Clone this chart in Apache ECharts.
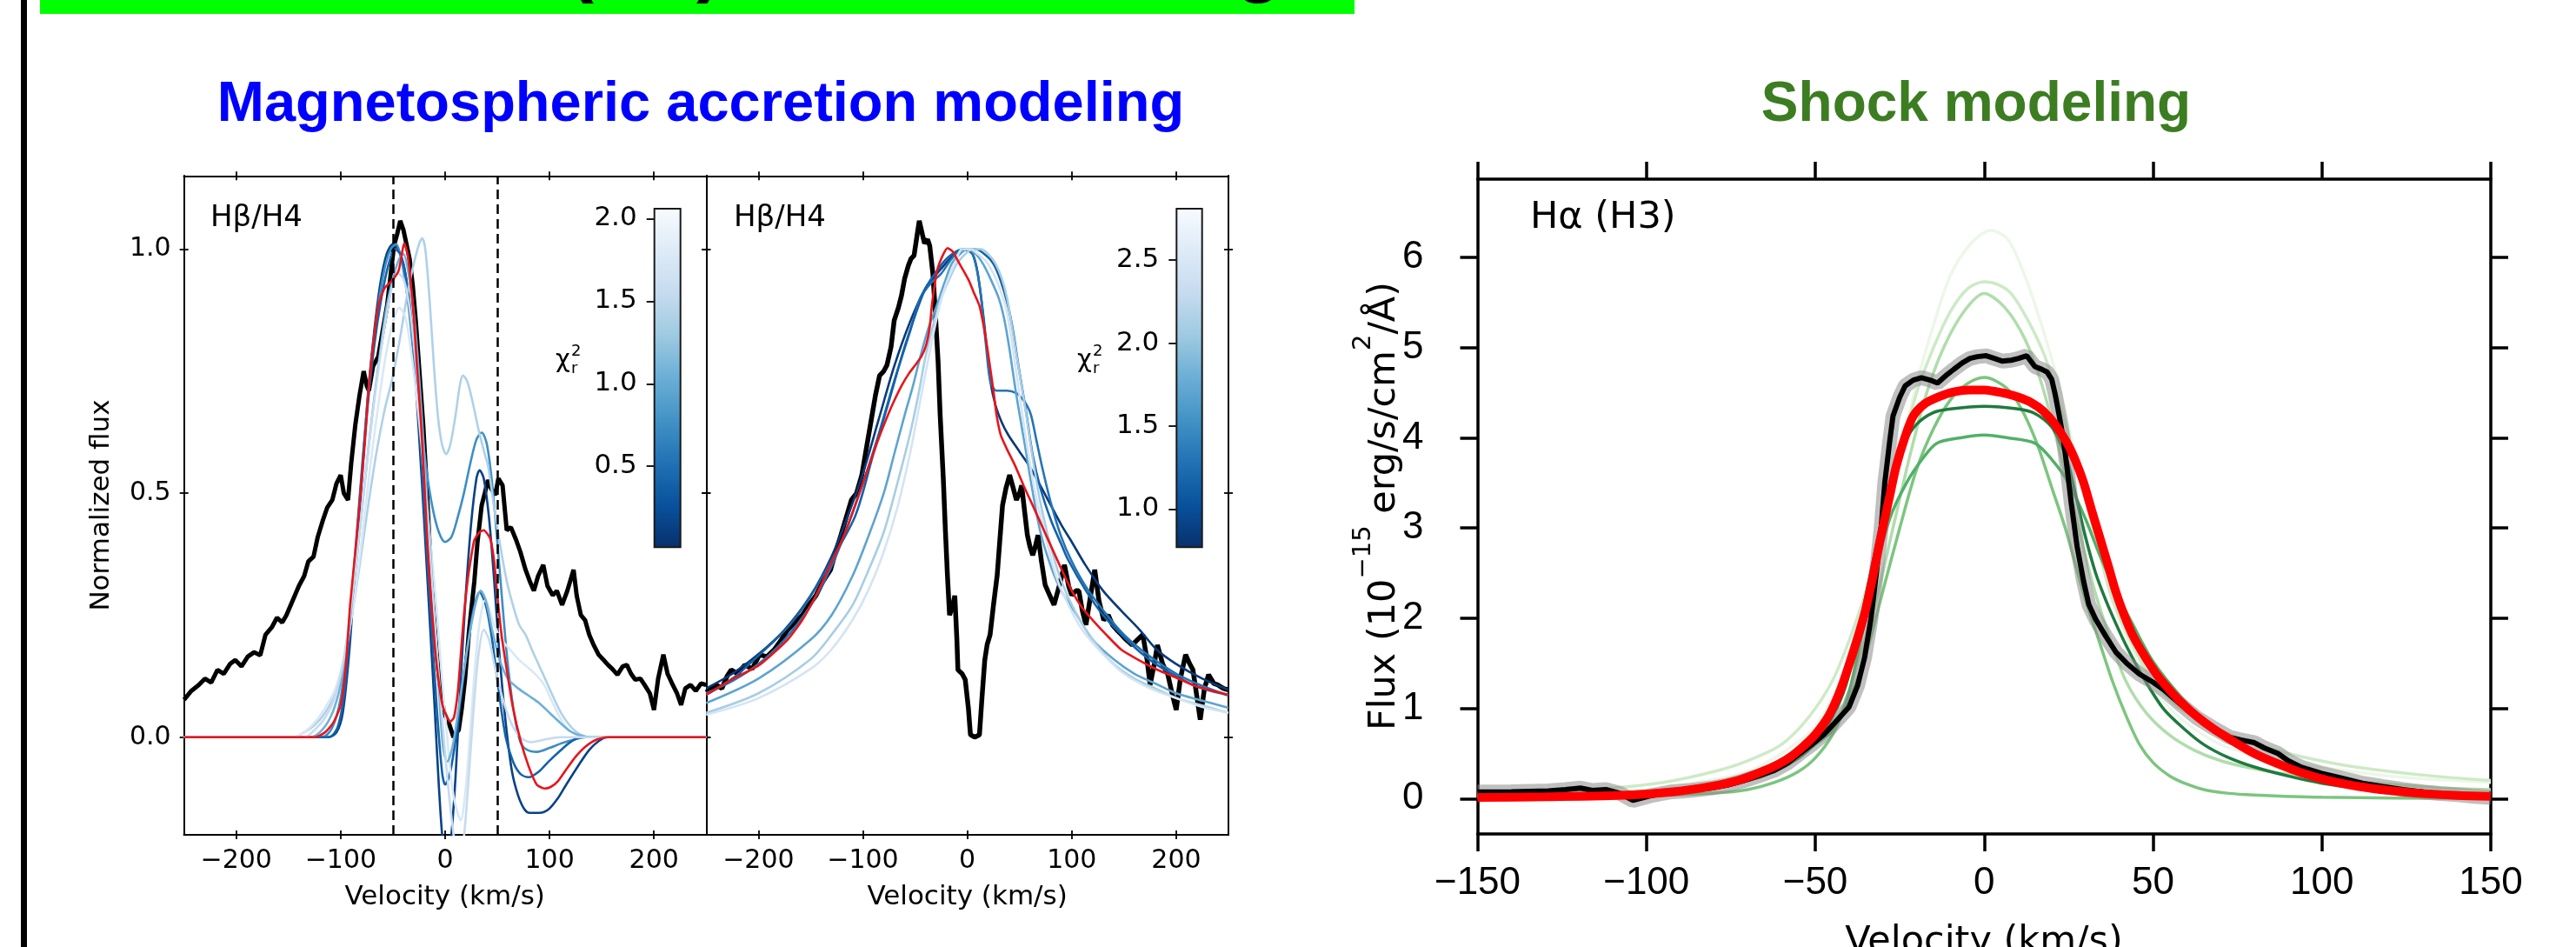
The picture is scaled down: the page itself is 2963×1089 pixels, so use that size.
<!DOCTYPE html>
<html><head><meta charset="utf-8">
<script src="https://cdn.jsdelivr.net/npm/echarts@6/dist/echarts.min.js"></script>
<style>html,body{margin:0;padding:0;background:#fff}#c{width:2963px;height:1089px}</style>
</head><body><div id="c"></div>
<script>
// ---------------- DATA ----------------
const velTicksHb = [-200, -100, 0, 100, 200];
const fluxTicksHb = [0, 0.5, 1.0];
const velTicksHa = [-150, -100, -50, 0, 50, 100, 150];
const fluxTicksHa = [0, 1, 2, 3, 4, 5, 6];
const cbLeftRange = [0.01, 2.06];
const cbLeftTicks = [0.5, 1.0, 1.5, 2.0];
const cbMidRange = [0.77, 2.81];
const cbMidTicks = [1.0, 1.5, 2.0, 2.5];
const dashedVel = [-50, 50];

// Left panel (Hβ/H4) observed
const hbLeftObs = [[-250,0.077],[-243,0.095],[-236,0.107],[-230,0.12],[-224,0.112],[-218,0.138],[-212,0.13],[-206,0.15],[-201,0.158],[-195,0.145],[-189,0.165],[-183,0.174],[-177,0.168],[-172,0.21],[-166,0.225],[-161,0.245],[-156,0.235],[-152,0.25],[-148,0.27],[-144,0.29],[-140,0.31],[-135,0.33],[-131,0.36],[-126,0.37],[-122,0.41],[-117,0.445],[-113,0.47],[-108,0.486],[-104,0.52],[-100,0.537],[-97,0.5],[-93,0.486],[-90,0.56],[-86,0.64],[-82,0.7],[-78,0.75],[-75,0.72],[-73,0.71],[-69,0.76],[-64,0.78],[-60,0.83],[-55.5,0.885],[-52,0.95],[-49,1.007],[-46,1.03],[-43,1.058],[-40,1.04],[-38,1.02],[-34,0.98],[-31,0.925],[-28,0.85],[-25,0.76],[-21,0.64],[-18,0.527],[-15,0.4],[-11.5,0.27],[-8,0.17],[-5,0.107],[-1,0.05],[4,0.026],[8,0.0],[13,0.015],[16,0.06],[19,0.118],[23,0.22],[28,0.32],[31,0.4],[35,0.475],[38,0.5],[41,0.527],[44,0.51],[48,0.496],[51,0.53],[55,0.516],[59,0.424],[63,0.43],[68,0.404],[72,0.38],[77,0.343],[81,0.32],[85,0.30],[89,0.33],[94,0.353],[98,0.31],[103,0.291],[107,0.3],[112,0.271],[117,0.3],[123,0.343],[126,0.29],[130,0.25],[134,0.24],[138,0.21],[142,0.19],[147,0.169],[151,0.16],[156,0.148],[160,0.14],[165,0.128],[170,0.145],[174,0.148],[178,0.13],[182,0.118],[187,0.12],[191,0.107],[196,0.09],[200,0.056],[204,0.12],[209,0.169],[213,0.13],[218,0.107],[222,0.09],[226,0.066],[230,0.1],[235,0.107],[240,0.095],[245,0.11],[250,0.107]];
// Left panel best fit (red)
const hbLeftFit = [[-250,0],[-125,0],[-115,0.01],[-107,0.03],[-100,0.066],[-95,0.15],[-91,0.27],[-86,0.38],[-82,0.475],[-77,0.6],[-73,0.72],[-68,0.82],[-64,0.884],[-58,0.92],[-51,0.935],[-44.5,0.956],[-39,1.012],[-36,0.99],[-33.5,0.946],[-30,0.86],[-27,0.76],[-23,0.64],[-20,0.527],[-17,0.4],[-13.7,0.29],[-10,0.19],[-7,0.128],[-3,0.07],[1.8,0.041],[5,0.032],[8.4,0.04],[12,0.09],[15,0.169],[18,0.25],[21.6,0.322],[25,0.37],[28,0.404],[33,0.42],[37,0.424],[41,0.415],[43.6,0.404],[47,0.36],[50,0.29],[54,0.21],[59,0.138],[65,0.06],[72,-0.005],[80,-0.06],[87.7,-0.097],[95,-0.105],[101,-0.102],[108,-0.09],[116,-0.066],[125,-0.04],[134,-0.02],[145,-0.005],[156,0],[250,0]];
// Left panel models (blue) and their reduced chi2
const hbLeftChi = [0.15, 0.75, 0.4, 1.4, 1.75, 1.05, 1.55];
const hbLeftMod1 = [[-250,0],[-112,0],[-104,0.01],[-98,0.05],[-92,0.17],[-86,0.35],[-80,0.52],[-74,0.7],[-68,0.83],[-62,0.93],[-56,0.99],[-50,1.01],[-45,1.0],[-40,0.97],[-35,0.9],[-30,0.78],[-25,0.62],[-20,0.44],[-15,0.25],[-10,0.06],[-6,-0.1],[-2,-0.22],[2,-0.26],[6,-0.2],[10,-0.08],[15,0.12],[20,0.3],[25,0.44],[30,0.53],[33,0.547],[37,0.53],[42,0.45],[47,0.32],[52,0.17],[58,0.03],[64,-0.07],[70,-0.12],[76,-0.148],[81,-0.155],[90,-0.155],[99,-0.148],[108,-0.125],[116,-0.097],[127,-0.06],[138,-0.026],[147,-0.008],[155,0],[250,0]];
const hbLeftMod2 = [[-250,0],[-118,0],[-108,0.02],[-100,0.08],[-93,0.2],[-86,0.38],[-79,0.57],[-72,0.74],[-65,0.87],[-58,0.96],[-52,1.0],[-47,1.01],[-42,0.98],[-36,0.9],[-30,0.78],[-24,0.66],[-18,0.55],[-12,0.47],[-6,0.42],[0,0.40],[6,0.41],[12,0.45],[18,0.5],[24,0.56],[30,0.61],[35,0.624],[40,0.6],[45,0.52],[50,0.4],[55,0.27],[60,0.15],[66,0.05],[72,-0.01],[78,-0.025],[88,-0.03],[100,-0.022],[112,-0.012],[125,-0.004],[135,0],[250,0]];
const hbLeftMod3 = [[-250,0],[-112,0],[-103,0.02],[-96,0.1],[-89,0.28],[-82,0.48],[-75,0.66],[-68,0.8],[-61,0.9],[-54,0.97],[-48,1.0],[-43,0.99],[-38,0.95],[-32,0.85],[-26,0.68],[-20,0.47],[-14,0.26],[-8,0.06],[-3,-0.07],[0,-0.097],[4,-0.08],[9,-0.02],[15,0.08],[21,0.18],[27,0.26],[33,0.297],[39,0.27],[45,0.2],[51,0.1],[58,0.0],[65,-0.05],[72,-0.075],[80,-0.082],[90,-0.07],[99,-0.05],[110,-0.028],[120,-0.01],[130,0],[250,0]];
const hbLeftMod4 = [[-250,0],[-145,0],[-135,0.01],[-125,0.025],[-115,0.05],[-105,0.09],[-97,0.15],[-90,0.24],[-82,0.35],[-74,0.47],[-66,0.58],[-58,0.67],[-50,0.74],[-43,0.82],[-36,0.91],[-30,0.97],[-25,1.01],[-22,1.022],[-19,1.0],[-15,0.9],[-11,0.77],[-7,0.66],[-3,0.6],[1,0.58],[5,0.6],[10,0.66],[14,0.72],[17,0.741],[21,0.73],[26,0.69],[32,0.63],[38,0.58],[41,0.557],[47,0.47],[53,0.39],[59,0.32],[65,0.27],[71,0.23],[77,0.21],[85,0.17],[94,0.128],[103,0.085],[112,0.046],[121,0.02],[130,0.005],[140,0],[250,0]];
const hbLeftMod5 = [[-250,0],[-145,0],[-135,0.01],[-125,0.03],[-115,0.06],[-105,0.1],[-96,0.17],[-88,0.27],[-80,0.4],[-72,0.55],[-64,0.68],[-57,0.78],[-50,0.85],[-44,0.88],[-38,0.86],[-32,0.78],[-26,0.67],[-20,0.54],[-14,0.4],[-8,0.26],[-3,0.12],[2,0.0],[6,-0.09],[10,-0.14],[15,-0.17],[19,-0.12],[23,-0.02],[27,0.1],[31,0.2],[35,0.26],[38,0.28],[42,0.265],[47,0.23],[54,0.2],[62,0.18],[70,0.16],[78,0.145],[86,0.13],[94,0.11],[102,0.075],[110,0.04],[118,0.015],[128,0.003],[138,0],[250,0]];
const hbLeftMod6 = [[-250,0],[-130,0],[-120,0.01],[-110,0.04],[-102,0.09],[-95,0.17],[-88,0.3],[-80,0.46],[-72,0.62],[-64,0.76],[-57,0.87],[-50,0.94],[-44,0.98],[-40,0.99],[-35,0.95],[-29,0.85],[-23,0.68],[-17,0.48],[-11,0.27],[-6,0.1],[-2,-0.02],[2,-0.05],[7,-0.02],[13,0.06],[19,0.15],[25,0.23],[30,0.28],[34,0.3],[39,0.28],[45,0.22],[52,0.16],[60,0.12],[70,0.1],[80,0.085],[90,0.07],[100,0.05],[110,0.03],[120,0.012],[130,0.003],[140,0],[250,0]];
const hbLeftMod7 = [[-250,0],[-135,0],[-125,0.015],[-115,0.04],[-106,0.08],[-98,0.15],[-90,0.27],[-82,0.42],[-74,0.58],[-66,0.72],[-58,0.84],[-51,0.92],[-45,0.95],[-40,0.94],[-34,0.88],[-28,0.76],[-22,0.6],[-16,0.42],[-10,0.24],[-4,0.07],[2,-0.08],[7,-0.18],[12,-0.24],[17,-0.22],[22,-0.1],[27,0.05],[32,0.17],[37,0.22],[42,0.2],[48,0.14],[55,0.08],[63,0.03],[72,0.0],[82,-0.01],[95,-0.005],[110,0],[250,0]];

// Middle panel (Hβ/H4) observed
const hbMidObs = [[-250,0.092],[-245,0.1],[-240,0.107],[-235,0.1],[-230,0.125],[-226,0.138],[-220,0.13],[-213,0.148],[-206,0.14],[-199,0.169],[-192,0.165],[-185,0.179],[-178,0.2],[-172,0.22],[-165,0.235],[-158,0.25],[-152,0.27],[-145,0.29],[-138,0.32],[-131,0.343],[-126,0.38],[-121,0.414],[-116,0.45],[-111,0.486],[-106,0.5],[-101,0.537],[-96,0.6],[-92,0.65],[-88,0.7],[-84,0.741],[-80,0.75],[-77,0.762],[-73,0.8],[-70,0.854],[-66,0.88],[-63,0.905],[-60,0.94],[-56.5,0.966],[-54,0.98],[-51,0.987],[-48,1.03],[-46,1.058],[-43,1.03],[-41,1.012],[-38,1.02],[-36,1.007],[-33,0.95],[-31,0.884],[-28,0.77],[-26,0.66],[-23,0.53],[-21,0.424],[-19,0.33],[-17,0.25],[-14,0.27],[-12,0.29],[-10,0.2],[-9,0.138],[-5,0.13],[-2,0.118],[1,0.06],[3,0.005],[7,0.0],[11.6,0.005],[14,0.08],[16.7,0.158],[19,0.19],[21.8,0.21],[25,0.27],[28.6,0.332],[31,0.4],[33.7,0.475],[37,0.51],[40.5,0.537],[44,0.51],[47,0.486],[50,0.5],[52,0.516],[55,0.46],[57.5,0.414],[60,0.39],[62.6,0.373],[65,0.39],[67.7,0.414],[71,0.36],[74.5,0.312],[79,0.29],[83,0.271],[88,0.31],[93,0.353],[97,0.31],[100,0.291],[104,0.3],[106.8,0.30],[110,0.26],[113.6,0.23],[118,0.29],[122,0.343],[126,0.28],[130.6,0.24],[135,0.25],[139,0.23],[143,0.22],[147.6,0.21],[152,0.2],[157.8,0.189],[163,0.2],[168,0.21],[172,0.16],[175,0.107],[179,0.15],[182,0.189],[187,0.15],[192,0.128],[196,0.09],[200,0.056],[204,0.12],[209,0.169],[213,0.15],[216,0.138],[220,0.08],[223,0.036],[227,0.1],[231,0.128],[236,0.11],[240,0.107],[245,0.1],[250,0.097]];
const hbMidFit = [[-250,0.087],[-226,0.118],[-199,0.148],[-172,0.2],[-158,0.24],[-145,0.29],[-135,0.335],[-124.5,0.383],[-115,0.43],[-107.5,0.475],[-100,0.52],[-94,0.557],[-87,0.6],[-80,0.639],[-72,0.68],[-63,0.72],[-56,0.745],[-50,0.762],[-44,0.78],[-39.5,0.803],[-36,0.84],[-34,0.884],[-31,0.93],[-29,0.956],[-24,0.985],[-19,1.002],[-14,0.995],[-9,0.976],[-4,0.957],[1.4,0.936],[6,0.912],[11.6,0.884],[15,0.85],[18,0.813],[21,0.77],[25,0.71],[28,0.66],[32,0.619],[38,0.59],[45.6,0.557],[54,0.515],[62.6,0.475],[71,0.435],[79.6,0.394],[90,0.345],[100,0.30],[110,0.265],[120,0.24],[133,0.21],[147.6,0.179],[165,0.157],[182,0.138],[200,0.122],[216,0.107],[233,0.096],[250,0.087]];
const hbMidChi = [0.85, 1.3, 1.15, 1.7, 2.1, 2.45];
const hbMidMod1 = [[-250,0.1],[-225,0.13],[-200,0.17],[-175,0.22],[-150,0.29],[-130,0.37],[-115,0.45],[-100,0.54],[-85,0.65],[-70,0.76],[-55,0.85],[-40,0.92],[-25,0.96],[-12,0.99],[-3,1.0],[5,0.99],[10,0.95],[15,0.87],[19,0.79],[22,0.73],[27,0.68],[33,0.645],[39,0.62],[50,0.585],[59,0.557],[70,0.515],[80,0.475],[90,0.435],[100,0.4],[113,0.353],[130,0.3],[147,0.26],[165,0.22],[181,0.18],[200,0.15],[225,0.12],[250,0.097]];
const hbMidMod2 = [[-250,0.09],[-225,0.115],[-200,0.15],[-175,0.2],[-150,0.27],[-130,0.35],[-115,0.43],[-100,0.52],[-85,0.62],[-70,0.73],[-55,0.83],[-45,0.9],[-35,0.93],[-25,0.95],[-15,0.98],[-5,1.0],[5,0.99],[12,0.92],[18,0.8],[22,0.73],[28,0.71],[38,0.71],[47,0.705],[52,0.695],[57,0.68],[61,0.66],[66,0.61],[72,0.55],[80,0.48],[90,0.41],[100,0.36],[113,0.31],[130,0.26],[150,0.21],[175,0.165],[200,0.13],[225,0.105],[250,0.085]];
const hbMidMod3 = [[-250,0.087],[-225,0.12],[-199,0.169],[-170,0.23],[-150,0.29],[-128,0.37],[-107,0.455],[-90,0.58],[-73.5,0.70],[-60,0.8],[-50,0.864],[-40,0.92],[-29,0.956],[-20,0.98],[-9,0.997],[0,1.0],[8,1.0],[18,0.987],[25,0.97],[32,0.935],[39,0.884],[44,0.83],[49,0.76],[56,0.67],[62.6,0.578],[70,0.51],[80,0.445],[90,0.395],[96.6,0.363],[113.6,0.30],[130,0.25],[147.6,0.21],[165,0.175],[181.6,0.148],[200,0.125],[216,0.107],[233,0.095],[250,0.087]];
const hbMidMod4 = [[-250,0.07],[-200,0.12],[-150,0.2],[-130,0.25],[-110,0.33],[-95,0.41],[-80,0.5],[-70,0.58],[-60,0.66],[-52,0.72],[-45,0.78],[-37,0.84],[-30,0.88],[-22,0.93],[-15,0.97],[-7,0.99],[0,1.0],[8,0.99],[15,0.97],[22,0.94],[30,0.9],[35,0.86],[40,0.8],[47,0.7],[55,0.6],[62,0.51],[70,0.42],[80,0.35],[90,0.3],[105,0.25],[120,0.2],[140,0.16],[160,0.13],[180,0.11],[200,0.09],[225,0.075],[250,0.06]];
const hbMidMod5 = [[-250,0.05],[-200,0.09],[-150,0.16],[-130,0.21],[-110,0.27],[-95,0.34],[-80,0.42],[-67,0.52],[-55,0.62],[-47,0.7],[-40,0.78],[-32,0.85],[-25,0.9],[-17,0.94],[-10,0.97],[-2,0.99],[5,1.0],[13,1.0],[20,0.99],[27,0.97],[33,0.94],[38,0.9],[42,0.85],[48,0.77],[55,0.68],[62,0.58],[70,0.48],[80,0.39],[90,0.32],[105,0.25],[120,0.2],[140,0.15],[160,0.12],[180,0.1],[200,0.08],[225,0.065],[250,0.05]];
const hbMidMod6 = [[-250,0.046],[-200,0.08],[-150,0.14],[-130,0.18],[-110,0.24],[-95,0.3],[-80,0.38],[-67,0.47],[-55,0.58],[-45,0.69],[-35,0.8],[-27,0.88],[-20,0.93],[-12,0.97],[-5,1.0],[3,1.0],[10,0.99],[18,0.975],[25,0.95],[31,0.92],[38,0.87],[44,0.79],[50,0.7],[57,0.6],[65,0.5],[75,0.41],[85,0.33],[97,0.27],[110,0.22],[130,0.17],[150,0.13],[175,0.1],[200,0.08],[225,0.062],[250,0.05]];

// Right panel (Hα) observed, best fit and models
const haObs = [[-150,0.073],[-140,0.075],[-129,0.085],[-124,0.1],[-119.5,0.116],[-116,0.09],[-112,0.10],[-108,0.06],[-104,-0.02],[-99,0.03],[-93,0.073],[-87,0.09],[-81,0.116],[-76,0.15],[-71.5,0.195],[-67,0.25],[-62,0.316],[-58,0.4],[-54.6,0.5],[-51,0.6],[-47.4,0.712],[-44,0.85],[-40,1.016],[-37.5,1.25],[-35.4,1.564],[-33.5,2.0],[-31.8,2.54],[-30.5,3.0],[-29.4,3.51],[-28,3.95],[-27,4.24],[-25,4.45],[-23.4,4.576],[-21,4.64],[-18.6,4.667],[-16,4.64],[-13.8,4.607],[-11,4.7],[-9,4.759],[-6.5,4.83],[-4.2,4.88],[-2,4.9],[0.6,4.91],[3,4.88],[5.4,4.85],[8,4.86],[10.2,4.88],[12.6,4.91],[15,4.79],[17,4.76],[18.6,4.73],[20,4.65],[21,4.485],[22.2,4.25],[23.4,4.0],[24.6,3.65],[25.8,3.27],[27.5,2.8],[29.4,2.416],[31,2.15],[33,1.99],[36,1.8],[39,1.625],[42.5,1.49],[46,1.38],[50,1.29],[53.4,1.2],[58,1.05],[63,0.895],[68,0.78],[72.7,0.68],[76,0.65],[80,0.62],[83,0.56],[87,0.5],[90,0.42],[94,0.347],[100,0.28],[106,0.225],[112,0.17],[118,0.134],[124,0.1],[130,0.073],[135,0.055],[140,0.043],[145,0.025],[150,0.012]];
const haFit = [[-150,0.012],[-130,0.02],[-105,0.04],[-92,0.075],[-81,0.134],[-73,0.2],[-66.6,0.286],[-61,0.38],[-57,0.47],[-53.5,0.58],[-50,0.71],[-46,0.92],[-42.6,1.2],[-39,1.6],[-35.4,2.05],[-33,2.45],[-30.6,2.9],[-28,3.35],[-26,3.69],[-23.5,4.0],[-21,4.24],[-17.5,4.38],[-13.8,4.45],[-9,4.51],[-4.2,4.53],[0,4.53],[3,4.515],[6.5,4.49],[10.2,4.45],[14,4.39],[17.4,4.30],[21,4.15],[24.6,3.94],[27,3.75],[29.4,3.51],[31.8,3.2],[34.2,2.90],[36.6,2.6],[39,2.29],[41.5,2.03],[44,1.81],[47.5,1.58],[51,1.38],[54.5,1.22],[58,1.077],[63,0.91],[68,0.77],[74,0.63],[80,0.5],[87,0.385],[94,0.286],[102,0.2],[111,0.134],[120,0.09],[130,0.055],[140,0.035],[150,0.024]];
const haMod1 = [[-150,0.05],[-120,0.08],[-100,0.1],[-85,0.18],[-70,0.3],[-58,0.55],[-50,0.8],[-44,1.2],[-40,1.6],[-35,2.3],[-30,3.0],[-25,3.8],[-20,4.6],[-15,5.25],[-10,5.8],[-4,6.15],[2,6.3],[7,6.2],[12,5.8],[17,5.25],[22,4.6],[27,3.8],[32,3.0],[37,2.35],[42,1.8],[48,1.35],[55,1.0],[62,0.78],[70,0.6],[80,0.48],[90,0.4],[105,0.32],[120,0.25],[135,0.21],[150,0.18]];
const haMod2 = [[-150,0.06],[-130,0.09],[-110,0.12],[-95,0.18],[-80,0.3],[-70,0.42],[-60,0.6],[-52,0.9],[-45,1.3],[-40,1.75],[-35,2.3],[-30,3.0],[-25,3.8],[-20,4.5],[-15,5.0],[-10,5.4],[-5,5.65],[0,5.73],[4,5.7],[8,5.6],[13,5.3],[18,4.9],[23,4.3],[28,3.6],[33,2.9],[38,2.2],[44,1.7],[50,1.3],[57,1.03],[65,0.85],[75,0.68],[85,0.55],[97,0.44],[110,0.35],[130,0.26],[150,0.2]];
const haMod3 = [[-150,0.03],[-125,0.05],[-100,0.07],[-85,0.12],[-70,0.2],[-62,0.3],[-55,0.45],[-48,0.7],[-42,1.0],[-37,1.55],[-32,2.2],[-27,3.0],[-22,3.8],[-17,4.5],[-12,5.0],[-6,5.4],[0,5.6],[6,5.45],[12,5.1],[17,4.6],[22,3.9],[27,3.15],[32,2.4],[37,1.8],[42,1.3],[48,0.95],[55,0.7],[62,0.54],[70,0.42],[80,0.33],[90,0.27],[105,0.2],[120,0.16],[135,0.12],[150,0.1]];
const haMod4 = [[-150,0.01],[-100,0.03],[-80,0.06],[-70,0.1],[-62,0.18],[-55,0.3],[-50,0.45],[-45,0.7],[-40,1.1],[-35,1.6],[-30,2.3],[-25,3.0],[-20,3.65],[-15,4.1],[-10,4.42],[-5,4.6],[0,4.67],[4,4.62],[8,4.5],[12,4.25],[16,3.9],[20,3.45],[24,3.0],[27,2.6],[30,2.2],[34,1.75],[38,1.3],[42,0.92],[46,0.6],[50,0.4],[55,0.25],[60,0.16],[65,0.1],[72,0.06],[80,0.04],[100,0.015],[150,0.0]];
const haMod5 = [[-150,0.03],[-125,0.05],[-100,0.08],[-85,0.13],[-70,0.22],[-62,0.32],[-55,0.45],[-50,0.6],[-45,0.75],[-41,1.05],[-38,1.5],[-35.5,1.95],[-33,2.4],[-28,3.1],[-23,3.5],[-18,3.78],[-14,3.94],[-7,4.0],[0,4.03],[7,4.0],[15,3.94],[20,3.76],[25,3.5],[30,3.1],[34,2.72],[39,2.3],[44,1.93],[50,1.52],[58,1.14],[66,0.84],[75,0.59],[87,0.4],[99,0.256],[112,0.16],[125,0.1],[138,0.07],[150,0.05]];
const haMod6 = [[-150,0.02],[-125,0.04],[-100,0.06],[-85,0.11],[-70,0.2],[-62,0.3],[-55,0.45],[-50,0.62],[-45,0.9],[-41,1.25],[-38,1.7],[-35,2.25],[-32,2.8],[-29.5,3.25],[-27,3.6],[-23.5,3.95],[-20,4.15],[-15,4.28],[-10,4.32],[0,4.35],[10,4.32],[15,4.27],[20,4.12],[23,3.9],[25,3.7],[27.5,3.3],[30,2.9],[33,2.5],[36,2.2],[39,1.94],[42,1.7],[47,1.35],[53,1.0],[59,0.78],[65,0.6],[72,0.46],[80,0.35],[90,0.25],[100,0.17],[112,0.11],[125,0.08],[138,0.055],[150,0.04]];
const haModColors = ['#ecf7e8', '#cdeac6', '#b0ddab', '#7cc57f', '#52b068', '#1f7a3e'];

// ---------------- COLOR MAP (matplotlib Blues) ----------------
const BLUES = ['#f7fbff','#deebf7','#c6dbef','#9ecae1','#6baed6','#4292c6','#2171b5','#08519c','#08306b'];
function hexRgb(h){return [parseInt(h.slice(1,3),16),parseInt(h.slice(3,5),16),parseInt(h.slice(5,7),16)];}
function bluesAt(t){t=Math.min(1,Math.max(0,t));const p=t*8;const i=Math.min(7,Math.floor(p));const f=p-i;const a=hexRgb(BLUES[i]),b=hexRgb(BLUES[i+1]);
  return 'rgb('+a.map((v,k)=>Math.round(v+(b[k]-v)*f)).join(',')+')';}
function chiColor(chi, range){return bluesAt(1-(chi-range[0])/(range[1]-range[0]));}

// ---------------- LAYOUT ----------------
const G_LEFT = {left:211.7, top:202.3, width:600.6, height:757.7};
const G_MID  = {left:812.3, top:202.3, width:600.7, height:757.7};
const G_HA   = {left:1699.5, top:206, width:1165.5, height:753};
const G_CBL  = {left:752.7, top:240, width:30, height:389.3};
const G_CBM  = {left:1353.3, top:240, width:29.4, height:389.3};
const grids = [G_LEFT, G_MID, G_HA, G_CBL, G_CBM].map(g => Object.assign({containLabel:false, outerBoundsMode:'none'}, g));

const minus = v => (v < 0 ? '\u2212' : '') + Math.abs(v);
const fix1 = v => v.toFixed(1);
const DJ = 'DejaVu Sans';
const xAxes = [], yAxes = [];

function ax(g, pos, min, max, ticks, o) {
  const fam = o.font || DJ, fs = o.fs || 30, fmt = o.fmt || String;
  return {
    type:'value', gridIndex:g, position:pos, min:min, max:max,
    axisLine:{show:o.line !== false, onZero:false, lineStyle:{color:'#000', width:o.lw}},
    axisTick:{show:true, inside:!!o.inside, length:o.len, customValues:ticks, lineStyle:{color:'#000', width:o.tw}},
    axisLabel:{show:!!o.labels, customValues:ticks, margin:o.margin||8, color:'#000',
      fontFamily:fam, fontSize:fs,
      formatter: v => '{t|' + fmt(v) + '}',
      rich:{t:{fontFamily:fam, fontSize:fs, color:'#000', lineHeight:Math.round(fs*1.2)}}},
    splitLine:{show:false}
  };
}
function thinPanel(g, showY) {
  const xi = xAxes.length;
  xAxes.push(ax(g,'bottom',-250,250,velTicksHb,{lw:2,len:5,tw:1.8,labels:true,fmt:minus,margin:12,fs:30}));
  xAxes.push(ax(g,'bottom',-250,250,velTicksHb,{lw:2,len:5,tw:1.8,inside:true}));
  xAxes.push(ax(g,'top',-250,250,velTicksHb,{lw:2,len:5,tw:1.8}));
  xAxes.push(ax(g,'top',-250,250,velTicksHb,{lw:2,len:5,tw:1.8,inside:true}));
  const yi = yAxes.length;
  yAxes.push(ax(g,'left',-0.2,1.15,fluxTicksHb,{lw:2,len:5,tw:1.8,labels:showY,fmt:fix1,margin:15,fs:30}));
  yAxes.push(ax(g,'left',-0.2,1.15,fluxTicksHb,{lw:2,len:5,tw:1.8,inside:true}));
  yAxes.push(ax(g,'right',-0.2,1.15,fluxTicksHb,{lw:2,len:5,tw:1.8}));
  yAxes.push(ax(g,'right',-0.2,1.15,fluxTicksHb,{lw:2,len:5,tw:1.8,inside:true}));
  return [xi, yi];
}
const [lxi, lyi] = thinPanel(0, true);
const [mxi, myi] = thinPanel(1, false);
// right panel
const hxi = xAxes.length;
xAxes.push(ax(2,'bottom',-150,150,velTicksHa,{lw:3.5,len:20,tw:3.5,labels:true,fmt:minus,margin:30,font:'Liberation Sans',fs:44}));
xAxes.push(ax(2,'top',-150,150,velTicksHa,{lw:3.5,len:20,tw:3.5}));
const hyi = yAxes.length;
yAxes.push(ax(2,'left',-0.392,6.868,fluxTicksHa,{lw:3.5,len:20,tw:3.5,labels:true,fmt:String,margin:62,font:'Liberation Sans',fs:44}));
yAxes.push(ax(2,'right',-0.392,6.868,fluxTicksHa,{lw:3.5,len:20,tw:3.5}));
// colorbars
const cblx = xAxes.length; xAxes.push({type:'value', gridIndex:3, min:0, max:1, show:false});
const cbly = yAxes.length; yAxes.push(ax(3,'left',cbLeftRange[0],cbLeftRange[1],cbLeftTicks,{line:false,lw:1,len:9,tw:1.8,labels:true,fmt:fix1,margin:20,fs:31}));
const cbmx = xAxes.length; xAxes.push({type:'value', gridIndex:4, min:0, max:1, show:false});
const cbmy = yAxes.length; yAxes.push(ax(4,'left',cbMidRange[0],cbMidRange[1],cbMidTicks,{line:false,lw:1,len:9,tw:1.8,labels:true,fmt:fix1,margin:20,fs:31}));

// ---------------- SERIES ----------------
function line(data, xi, yi, color, width, z, extra) {
  return Object.assign({type:'line', data:data, xAxisIndex:xi, yAxisIndex:yi, showSymbol:false, symbol:'none',
    lineStyle:{color:color, width:width}, z:z, clip:true, silent:true, animation:false}, extra||{});
}
const series = [];
series.push(line(hbLeftObs, lxi, lyi, '#000', 5, 2, {markLine:{silent:true, symbol:'none', animation:false, label:{show:false},
  lineStyle:{color:'#000', width:2.5, type:[11,6]}, data:dashedVel.map(v => ({xAxis:v}))}}));
[hbLeftMod1,hbLeftMod2,hbLeftMod3,hbLeftMod4,hbLeftMod5,hbLeftMod6,hbLeftMod7].forEach((d,i) => {
  series.push(line(d, lxi, lyi, chiColor(hbLeftChi[i], cbLeftRange), 2.6, 3, {smooth:0.3}));
});
series.push(line(hbLeftFit, lxi, lyi, '#e8151b', 2.6, 4, {smooth:0.2}));
series.push(line(hbMidObs, mxi, myi, '#000', 5.5, 2));
[hbMidMod1,hbMidMod2,hbMidMod3,hbMidMod4,hbMidMod5,hbMidMod6].forEach((d,i) => {
  series.push(line(d, mxi, myi, chiColor(hbMidChi[i], cbMidRange), 2.6, 3, {smooth:0.3}));
});
series.push(line(hbMidFit, mxi, myi, '#e8151b', 2.6, 4, {smooth:0.2}));
[haMod1,haMod2,haMod3,haMod4,haMod5,haMod6].forEach((d,i) => {
  series.push(line(d, hxi, hyi, haModColors[i], 3.5, 2, {smooth:0.3}));
});
series.push(line(haObs, hxi, hyi, 'rgba(140,140,140,0.55)', 17, 3));
series.push(line(haObs, hxi, hyi, '#000', 6, 4));
series.push(line(haFit, hxi, hyi, '#ff0000', 10, 5, {smooth:0.3}));
function colorbar(xi, yi, range) {
  return {type:'custom', xAxisIndex:xi, yAxisIndex:yi, silent:true, animation:false, z:5,
    data:[[0, range[0], 1, range[1]]],
    renderItem:(params, api) => {
      const p0 = api.coord([api.value(0), api.value(3)]);
      const p1 = api.coord([api.value(2), api.value(1)]);
      return {type:'rect', shape:{x:p0[0], y:p0[1], width:p1[0]-p0[0], height:p1[1]-p0[1]},
        style:{fill:new echarts.graphic.LinearGradient(0,0,0,1, BLUES.map((c,i)=>({offset:i/8, color:c}))),
               stroke:'#1a1a1a', lineWidth:2}};
    }};
}
series.push(colorbar(cblx, cbly, cbLeftRange));
series.push(colorbar(cbmx, cbmy, cbMidRange));

// ---------------- TEXT / DECORATION ----------------
const txt = (x, y, text, o) => ({type:'text', x:x, y:y, rotation:o.rot||0, z:10, silent:true,
  style:Object.assign({text:text, fill:o.color||'#000', font:(o.weight||'normal')+' '+o.fs+'px '+(o.font||('"'+DJ+'"')),
    align:o.align||'center', verticalAlign:'middle'}, o.style||{})});
const graphic = [
  {type:'rect', shape:{x:46, y:0, width:1512, height:16}, style:{fill:'#00ff00'}, z:1, silent:true},
  {type:'rect', shape:{x:24, y:0, width:7, height:1089}, style:{fill:'#000'}, z:1, silent:true},
  txt(668, -40, '(', {fs:90, weight:'bold', font:'"Liberation Sans"'}),
  txt(816, -40, ')', {fs:90, weight:'bold', font:'"Liberation Sans"'}),
  txt(1448, -40, 'g', {fs:90, weight:'bold', font:'"Liberation Sans"'}),
  txt(806, 121, 'Magnetospheric accretion modeling', {fs:65, weight:'bold', font:'"Liberation Sans"', color:'#0000ff'}),
  txt(2273, 121, 'Shock modeling', {fs:64, weight:'bold', font:'"Liberation Sans"', color:'#3c7d22'}),
  txt(242, 251, 'H\u03b2/H4', {fs:34, align:'left'}),
  txt(844, 251, 'H\u03b2/H4', {fs:34, align:'left'}),
  txt(1760, 251, 'H\u03b1 (H3)', {fs:43, align:'left'}),
  txt(116.5, 581, 'Normalized flux', {fs:31, rot:Math.PI/2}),
  txt(511.7, 1032, 'Velocity (km/s)', {fs:31}),
  txt(1112.6, 1032, 'Velocity (km/s)', {fs:31}),
  txt(2282, 1084, 'Velocity (km/s)', {fs:43}),
  txt(639, 414, '\u03c7', {fs:29, align:'left'}),
  txt(657, 404, '2', {fs:18, align:'left'}),
  txt(657, 424, 'r', {fs:18, align:'left'}),
  txt(1239, 414, '\u03c7', {fs:29, align:'left'}),
  txt(1257, 404, '2', {fs:18, align:'left'}),
  txt(1257, 424, 'r', {fs:18, align:'left'}),
  {type:'text', x:1584, y:582, rotation:Math.PI/2, z:10, silent:true,
   style:{text:'{a|Flux (10}{s|\u221215}{a| erg/s/cm}{s|2}{a|/\u00c5)}', align:'center', verticalAlign:'middle', fill:'#000',
     rich:{a:{fontSize:43, fontFamily:DJ, lineHeight:60, verticalAlign:'bottom', fill:'#000'},
           s:{fontSize:29, fontFamily:DJ, lineHeight:60, verticalAlign:'top', fill:'#000'}}}}
];

const chart = echarts.init(document.getElementById('c'), null, {renderer:'canvas'});
chart.setOption({animation:false, backgroundColor:'#ffffff', grid:grids, xAxis:xAxes, yAxis:yAxes, series:series, graphic:graphic});
</script></body></html>
